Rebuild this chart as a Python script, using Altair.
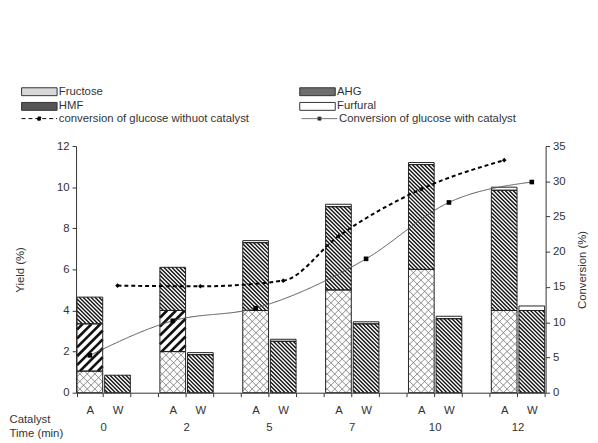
import math
import altair as alt
import pandas as pd

# ---------------- data ----------------
times = ["0", "2", "5", "7", "10", "12"]
components = ["Fructose", "AHG", "HMF", "Furfural"]

# catalyst A (stacked yields, %)
fructose_A = [1.05, 2.0, 4.0, 5.0, 6.0, 4.0]
ahg_A = [2.3, 2.0, 0.0, 0.0, 0.0, 0.0]
hmf_A = [1.3, 2.1, 3.3, 4.05, 5.1, 5.85]
furfural_A = [0.0, 0.0, 0.1, 0.12, 0.1, 0.15]
# catalyst W
fructose_W = [0.0, 0.0, 0.0, 0.0, 0.0, 0.0]
ahg_W = [0.0, 0.0, 0.0, 0.0, 0.0, 0.0]
hmf_W = [0.85, 1.85, 2.5, 3.35, 3.6, 4.0]
furfural_W = [0.0, 0.1, 0.1, 0.1, 0.12, 0.22]

series = ["conversion of glucose withuot catalyst", "Conversion of glucose with catalyst"]
conv_without = [15.2, 15.1, 15.9, 22.2, 28.9, 33.0]
conv_without_cat = ["W", "W", "W", "A", "A", "A"]
conv_with = [5.3, 10.2, 12.0, 19.0, 27.0, 29.9]
conv_with_cat = ["A", "A", "A", "W", "W", "W"]

# ---------------- layout constants ----------------
WIDTH, HEIGHT = 476, 250
Y_MAX, C_MAX = 12, 35
PAD_INNER, PAD_OUTER = 0.07, 0.035
FONT = "Liberation Sans"
TXT = "#333333"
FS = 11.5

# ---------------- tables ----------------
slots = []
for i, t in enumerate(times):
    slots += [t + "A", t + "W"]
    if i < len(times) - 1:
        slots.append(t + "g")
NSLOT = len(slots)

comp_vals = {
    "A": [fructose_A, ahg_A, hmf_A, furfural_A],
    "W": [fructose_W, ahg_W, hmf_W, furfural_W],
}
rows = []
for cat, lists in comp_vals.items():
    for ci, (comp, vals) in enumerate(zip(components, lists)):
        for t, v in zip(times, vals):
            if v > 0:
                rows.append({"slot": t + cat, "component": comp, "value": v, "rank": ci})
bars_df = pd.DataFrame(rows)

lrows = []
for s, vals, cats in [(series[0], conv_without, conv_without_cat), (series[1], conv_with, conv_with_cat)]:
    for i, (t, v, c) in enumerate(zip(times, vals, cats)):
        lrows.append({"slot": t + c, "conv": v, "series": s, "idx": i})
line_df = pd.DataFrame(lrows)

time_df = pd.DataFrame({"slot": [t + "W" for t in times], "time": times})

# ---- hatch fill patterns (Excel-like), clipped to each stacked segment ----
PX_X = WIDTH / NSLOT
PX_Y = HEIGHT / Y_MAX
patterns = {"Fructose": [("up", 7.6), ("down", 7.6)], "AHG": [("up", 9.0)], "HMF": [("down", 4.0)]}
hrows = []
for slot in slots:
    seg = bars_df[bars_df["slot"] == slot].sort_values("rank")
    base = 0.0
    for _, r in seg.iterrows():
        y0, y1 = base, base + r["value"]
        base = y1
        if r["component"] not in patterns:
            continue
        s = slots.index(slot)
        X0, X1 = (s + PAD_OUTER) * PX_X, (s + 1 - PAD_OUTER) * PX_X
        Y0, Y1 = y0 * PX_Y, y1 * PX_Y
        for direction, sp in patterns[r["component"]]:
            if direction == "up":
                k0, k1 = math.ceil((Y0 - X1) / sp), math.floor((Y1 - X0) / sp)
                for k in range(k0, k1 + 1):
                    c = k * sp
                    xa, xb = max(X0, Y0 - c), min(X1, Y1 - c)
                    if xb - xa > 0.3:
                        hrows.append({"component": r["component"], "hx": xa / PX_X, "hy": (xa + c) / PX_Y,
                                      "hx2": xb / PX_X, "hy2": (xb + c) / PX_Y})
            else:
                k0, k1 = math.ceil((X0 + Y0) / sp), math.floor((X1 + Y1) / sp)
                for k in range(k0, k1 + 1):
                    c = k * sp
                    xa, xb = max(X0, c - Y1), min(X1, c - Y0)
                    if xb - xa > 0.3:
                        hrows.append({"component": r["component"], "hx": xa / PX_X, "hy": (c - xa) / PX_Y,
                                      "hx2": xb / PX_X, "hy2": (c - xb) / PX_Y})
hatch_df = pd.DataFrame(hrows)

xscale = alt.Scale(domain=slots, paddingInner=PAD_INNER, paddingOuter=PAD_OUTER)
yscale = alt.Scale(domain=[0, Y_MAX])
cscale = alt.Scale(domain=[0, C_MAX])

x_axis = alt.Axis(
    labelExpr="indexof(datum.value + '', 'A') >= 0 ? 'A' : (indexof(datum.value + '', 'W') >= 0 ? 'W' : '')",
    labelAngle=0,
    labelPadding=8,
    tickSize=4,
    tickBand="extent",
    domainColor="#333333",
    tickColor="#333333",
    labelColor=TXT,
    labelFontSize=FS,
    title=["Catalyst", "Time (min)"],
    titleX=-68,
    titleY=21,
    titleAlign="left",
    titleBaseline="top",
    titleFontWeight="normal",
    titleFontSize=FS,
    titleColor=TXT,
    titleLineHeight=14,
    grid=False,
)

y_axis = alt.Axis(
    values=[0, 2, 4, 6, 8, 10, 12],
    tickSize=4,
    labelPadding=3,
    domainColor="#333333",
    tickColor="#333333",
    labelColor=TXT,
    labelFontSize=FS,
    grid=False,
    title="Yield (%)",
    titleX=-56,
    titleY=125,
    titleAngle=270,
    titleBaseline="middle",
    titleAlign="center",
    titleFontWeight="normal",
    titleFontSize=FS,
    titleColor=TXT,
)

bars_white = alt.Chart(bars_df).mark_bar(fill="#ffffff", strokeWidth=0).encode(
    x=alt.X("slot:N", scale=xscale, axis=x_axis),
    y=alt.Y("value:Q", stack="zero", scale=yscale, axis=y_axis),
    order=alt.Order("rank:Q"),
)


def hatch_layer(comp, color, width):
    return alt.Chart(hatch_df).transform_filter(alt.datum.component == comp).mark_rule(
        stroke=color, strokeWidth=width
    ).encode(
        x=alt.X("hx:Q", scale=alt.Scale(domain=[0, NSLOT], nice=False, zero=False), axis=None),
        x2="hx2:Q",
        y=alt.Y("hy:Q", scale=alt.Scale(domain=[0, Y_MAX], nice=False), axis=None),
        y2="hy2:Q",
    )


hatch_fru = hatch_layer("Fructose", "#7d7d7d", 0.9)
hatch_ahg = hatch_layer("AHG", "#111111", 2.7)
hatch_hmf = hatch_layer("HMF", "#111111", 1.4)

bars_outline = alt.Chart(bars_df).mark_bar(fillOpacity=0, stroke="#222222", strokeWidth=1).encode(
    x=alt.X("slot:N", scale=xscale, axis=None),
    y=alt.Y("value:Q", stack="zero", scale=yscale, axis=None),
    order=alt.Order("rank:Q"),
)

legend_layer = alt.Chart(bars_df).transform_filter("datum.value < 0").mark_bar().encode(
    fill=alt.Fill(
        "component:N",
        scale=alt.Scale(domain=components, range=["#d8d8d8", "#6e6e6e", "#555555", "#ffffff"]),
        legend=alt.Legend(
            orient="none",
            legendX=-57,
            legendY=-61,
            direction="horizontal",
            columns=2,
            columnPadding=196,
            rowPadding=2,
            title=None,
            symbolType="M-4.5,-1H4.5V1H-4.5Z",
            symbolSize=64,
            symbolOffset=14,
            symbolStrokeColor="#333333",
            symbolStrokeWidth=1,
            symbolOpacity=1,
            labelFontSize=FS,
            labelColor=TXT,
            labelOffset=14,
            labelLimit=0,
            padding=0,
        ),
    ),
)

stroke_scale = alt.Scale(domain=series, range=["#000000", "#555555"])
dash_scale = alt.Scale(domain=series, range=[[4, 3], [1, 0]])

line_without = alt.Chart(line_df).transform_filter(
    alt.datum.series == series[0]
).mark_line(interpolate="monotone", strokeWidth=2).encode(
    x=alt.X("slot:N", scale=xscale, axis=None),
    y=alt.Y(
        "conv:Q",
        scale=cscale,
        axis=alt.Axis(
            orient="right",
            values=[0, 5, 10, 15, 20, 25, 30, 35],
            tickSize=4,
            labelPadding=3,
            domainColor="#333333",
            tickColor="#333333",
            labelColor=TXT,
            labelFontSize=FS,
            grid=False,
            title="Conversion (%)",
            titleX=31,
            titleY=125,
            titleAngle=270,
            titleBaseline="top",
            titleAlign="center",
            titleFontWeight="normal",
            titleFontSize=FS,
            titleColor=TXT,
        ),
    ),
    stroke=alt.Stroke(
        "series:N",
        scale=stroke_scale,
        legend=alt.Legend(
            orient="none",
            legendX=-57,
            legendY=-34,
            direction="horizontal",
            columns=2,
            columnPadding=50,
            title=None,
            symbolType="M-4.5,0H4.5M-0.4,-0.4H0.4V0.4H-0.4Z",
            symbolSize=64,
            symbolOffset=14,
            symbolStrokeWidth=1,
            symbolFillColor="#000000",
            labelFontSize=FS,
            labelColor=TXT,
            labelOffset=14,
            labelLimit=0,
            padding=0,
        ),
    ),
    strokeDash=alt.StrokeDash("series:N", scale=dash_scale),
    order=alt.Order("idx:Q"),
)

line_with = alt.Chart(line_df).transform_filter(
    alt.datum.series == series[1]
).mark_line(interpolate="monotone", strokeWidth=1).encode(
    x=alt.X("slot:N", scale=xscale, axis=None),
    y=alt.Y("conv:Q", scale=cscale, axis=None),
    stroke=alt.Stroke("series:N", scale=stroke_scale),
    strokeDash=alt.StrokeDash("series:N", scale=dash_scale),
    order=alt.Order("idx:Q"),
)


def point_layer(name, shape):
    return alt.Chart(line_df).transform_filter(alt.datum.series == name).mark_point(
        filled=True, size=22, opacity=1, shape=shape, color="#000000"
    ).encode(
        x=alt.X("slot:N", scale=xscale, axis=None),
        y=alt.Y("conv:Q", scale=cscale, axis=None),
    )


points_without = point_layer(series[0], "diamond")
points_with = point_layer(series[1], "square")

time_labels = alt.Chart(time_df).mark_text(
    dx=-14, baseline="top", align="center", fontSize=FS, color=TXT, font=FONT
).encode(
    x=alt.X("slot:N", scale=xscale, axis=None),
    y=alt.value(280),
    text="time:N",
)

chart = (
    alt.layer(
        bars_white, hatch_fru, hatch_ahg, hatch_hmf, bars_outline, legend_layer,
        line_without, line_with, points_without, points_with, time_labels,
    )
    .resolve_scale(x="independent", y="independent")
    .properties(
        width=WIDTH,
        height=HEIGHT,
        padding={"left": 69, "top": 137, "right": 45, "bottom": 48},
        autosize=alt.AutoSizeParams(type="none"),
    )
    .configure(font=FONT)
    .configure_view(stroke=None)
)

chart.save("out.html", embed_options={"renderer": "svg", "actions": False})
